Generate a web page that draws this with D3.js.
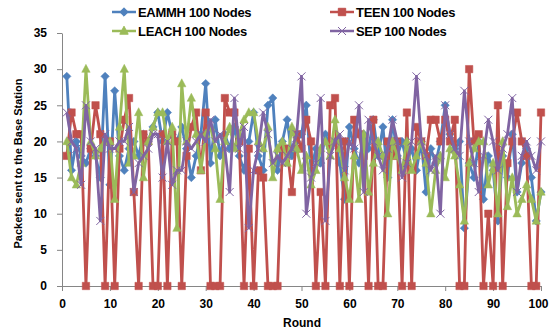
<!DOCTYPE html>
<html>
<head>
<meta charset="utf-8">
<script src="https://cdn.jsdelivr.net/npm/d3@7"></script>
<style>
  body { margin: 0; background: #fff; }
  text { font-family: "Liberation Sans", Arial, sans-serif; font-weight: bold; }
</style>
</head>
<body>
<div id="chart"></div>
<script>
const width = 550
const height = 333

// rounds 1..100 on the x axis
const rounds = d3.range(1, 101)
const xTicks = [0, 10, 20, 30, 40, 50, 60, 70, 80, 90, 100]
const yTicks = [0, 5, 10, 15, 20, 25, 30, 35]

const eammh = [29, 16, 20, 18, 17, 19, 18, 15, 29, 14, 27, 18, 16, 19, 20, 18, 21, 20, 22, 24,
    20, 24, 21, 20, 22, 19, 15, 18, 21, 28, 17, 23, 18, 21, 19, 22, 18, 16, 20, 24,
    18, 16, 25, 26, 16, 20, 23, 18, 20, 21, 25, 16, 19, 17, 21, 19, 20, 17, 12, 22,
    19, 17, 21, 19, 23, 18, 22, 15, 23, 18, 20, 17, 19, 16, 20, 13, 19, 17, 20, 25,
    21, 19, 20, 8, 17, 15, 20, 12, 18, 16, 9, 18, 15, 21, 13, 17, 19, 15, 9, 13]

const teen = [18, 24, 21, 21, 0, 19, 25, 21, 0, 20, 0, 19, 23, 26, 13, 0, 21, 20, 0, 0,
    21, 0, 21, 20, 0, 18, 22, 24, 16, 24, 0, 0, 0, 26, 24, 24, 20, 0, 19, 0,
    16, 15, 0, 0, 0, 19, 19, 13, 21, 19, 23, 20, 0, 13, 0, 25, 26, 0, 20, 0,
    23, 21, 18, 0, 23, 0, 0, 20, 18, 20, 0, 24, 0, 22, 20, 18, 23, 23, 20, 23,
    20, 23, 0, 0, 30, 20, 21, 0, 10, 0, 25, 0, 17, 20, 24, 20, 18, 0, 0, 24]

const leach = [20, 15, 14, 17, 30, 20, 18, 19, 20, 20, 12, 22, 30, 17, 18, 24, 15, 20, 22, 24,
    24, 20, 22, 8, 28, 20, 26, 21, 16, 21, 22, 19, 12, 20, 22, 19, 21, 23, 24, 24,
    20, 19, 22, 15, 19, 20, 17, 22, 19, 16, 18, 14, 16, 19, 20, 18, 23, 19, 15, 12,
    18, 12, 21, 13, 17, 20, 18, 10, 20, 18, 16, 20, 16, 18, 20, 17, 10, 16, 18, 15,
    19, 18, 14, 9, 17, 19, 20, 20, 14, 17, 10, 20, 11, 15, 10, 12, 14, 12, 9, 13]

const sep = [24, 20, 19, 14, 25, 20, 19, 9, 21, 19, 19, 20, 20, 22, 13, 17, 18, 19, 21, 21,
    15, 20, 14, 16, 16, 20, 19, 20, 21, 20, 23, 20, 21, 19, 13, 26, 19, 22, 8, 16,
    19, 24, 21, 17, 18, 17, 18, 19, 21, 29, 10, 15, 17, 26, 9, 18, 20, 21, 16, 20,
    19, 25, 13, 23, 20, 18, 16, 19, 23, 20, 15, 17, 20, 29, 20, 18, 16, 18, 10, 25,
    21, 19, 18, 27, 20, 17, 13, 18, 23, 20, 16, 19, 21, 26, 13, 18, 20, 18, 16, 20]

const seriesNames = ["EAMMH 100 Nodes", "TEEN 100 Nodes", "LEACH 100 Nodes", "SEP 100 Nodes"]
const seriesColors = ["#4F81BD", "#C0504D", "#9BBB59", "#8064A2"]
const seriesValues = [eammh, teen, leach, sep]
const seriesMarkers = ["diamond", "square", "triangle", "cross"]

const plot = { left: 62, right: 541, top: 33, bottom: 286 }

let x = d3.scaleLinear().domain([0, 100]).range([plot.left, plot.right])
let y = d3.scaleLinear().domain([0, 35]).range([plot.bottom, plot.top])

let markerPath = function (type) {
    if (type === "diamond") return "M0,-4.2L4.2,0L0,4.2L-4.2,0Z"
    if (type === "square") return "M-3.7,-3.7H3.7V3.7H-3.7Z"
    if (type === "triangle") return "M0,-4.8L4.2,3.2L-4.2,3.2Z"
    return "M-4,-4L4,4M-4,4L4,-4"
}

let svg = d3.select("#chart").append("svg")
    .attr("width", width)
    .attr("height", height)

// axes
let yAxis = svg.append("g")
    .attr("transform", "translate(" + plot.left + ",0)")
    .call(d3.axisLeft(y).tickValues(yTicks).tickSize(5).tickPadding(10).tickSizeOuter(0))
yAxis.selectAll("text").style("font-size", "12px").style("fill", "#000")

let xAxis = svg.append("g")
    .attr("transform", "translate(0," + plot.bottom + ")")
    .call(d3.axisBottom(x).tickValues(xTicks).tickSize(5).tickPadding(8).tickSizeOuter(0))
xAxis.selectAll("text").style("font-size", "12px").style("fill", "#000")
// last label would run past the window edge
xAxis.selectAll("text").filter(function (d) { return d === 100 }).attr("dx", -3)

svg.selectAll(".domain, .tick line").attr("stroke", "#868686")

// axis titles
svg.append("text")
    .attr("transform", "translate(22," + ((plot.top + plot.bottom) / 2 + 4) + ") rotate(-90)")
    .attr("text-anchor", "middle")
    .style("font-size", "11px")
    .text("Packets sent to the Base Station")

svg.append("text")
    .attr("x", 302)
    .attr("y", 327)
    .attr("text-anchor", "middle")
    .style("font-size", "12px")
    .text("Round")

// series
let line = d3.line()
    .x(function (d, i) { return x(rounds[i]) })
    .y(function (d) { return y(d) })

seriesValues.forEach(function (values, k) {
    let g = svg.append("g")
    g.append("path")
        .datum(values)
        .attr("d", line)
        .style("fill", "none")
        .style("stroke", seriesColors[k])
        .style("stroke-width", 2.8)
        .style("stroke-linejoin", "round")

    g.selectAll("path.marker")
        .data(values)
        .enter()
        .append("path")
        .attr("class", "marker")
        .attr("transform", function (d, i) { return "translate(" + x(rounds[i]) + "," + y(d) + ")" })
        .attr("d", markerPath(seriesMarkers[k]))
        .style("fill", seriesMarkers[k] === "cross" ? "none" : seriesColors[k])
        .style("stroke", seriesColors[k])
        .style("stroke-width", seriesMarkers[k] === "cross" ? 1 : 0.5)
})

// legend
let legendPos = [[112, 12], [330, 12], [112, 31], [330, 31]]
seriesNames.forEach(function (name, k) {
    let lg = svg.append("g")
        .attr("transform", "translate(" + legendPos[k][0] + "," + legendPos[k][1] + ")")
    lg.append("line")
        .attr("x1", 0).attr("x2", 24)
        .attr("y1", 0).attr("y2", 0)
        .style("stroke", seriesColors[k])
        .style("stroke-width", 2.5)
    lg.append("path")
        .attr("transform", "translate(12,0)")
        .attr("d", markerPath(seriesMarkers[k]))
        .style("fill", seriesMarkers[k] === "cross" ? "none" : seriesColors[k])
        .style("stroke", seriesColors[k])
        .style("stroke-width", 1)
    lg.append("text")
        .attr("x", 26)
        .attr("y", 4.5)
        .style("font-size", "13px")
        .style("letter-spacing", "-0.3px")
        .text(name)
})
</script>
</body>
</html>
